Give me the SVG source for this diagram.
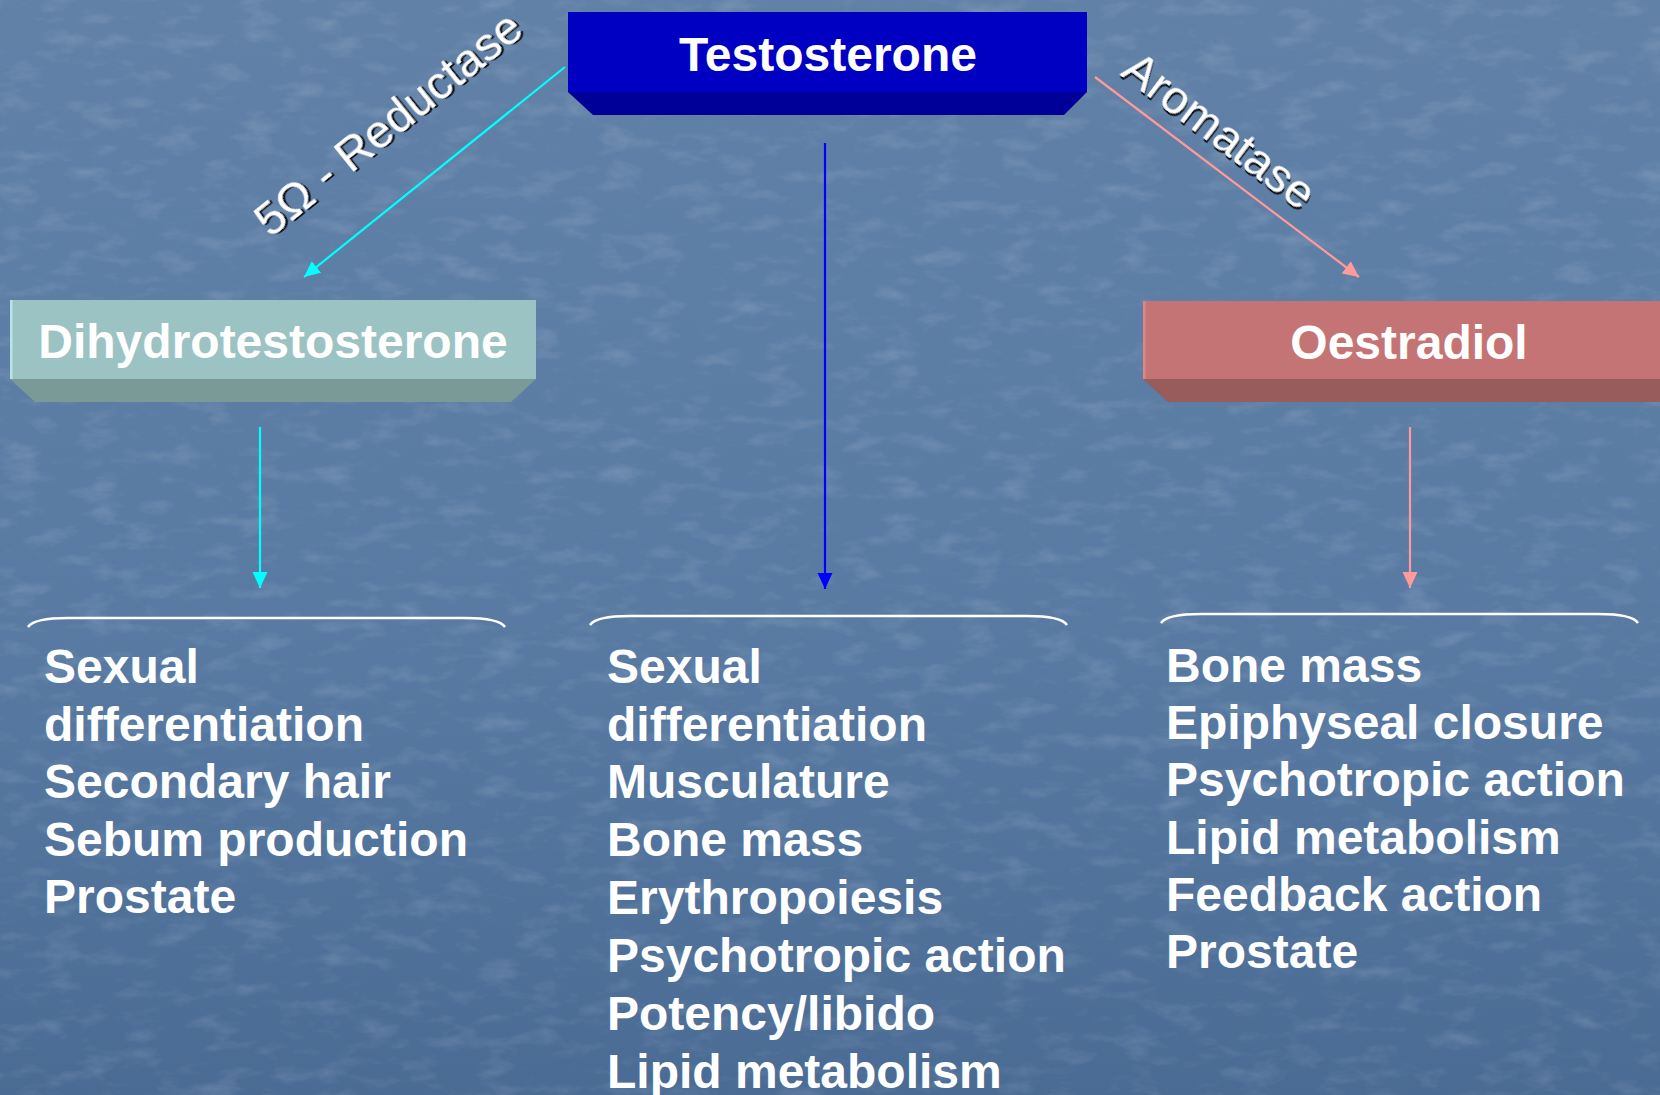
<svg xmlns="http://www.w3.org/2000/svg" width="1660" height="1095" viewBox="0 0 1660 1095">
<defs>
<linearGradient id="bg" x1="0" y1="0" x2="0" y2="1">
<stop offset="0" stop-color="#6181a7"/>
<stop offset="0.6" stop-color="#587aa2"/>
<stop offset="1" stop-color="#4a6b94"/>
</linearGradient>
<filter id="grain" x="0" y="0" width="100%" height="100%">
<feTurbulence type="fractalNoise" baseFrequency="0.025 0.06" numOctaves="4" seed="11" result="n"/>
<feColorMatrix in="n" type="matrix" values="0 0 0 0 1  0 0 0 0 1  0 0 0 0 1  0 0 0 1.4 -0.7"/>
</filter>
<filter id="shadow" x="-10%" y="-10%" width="120%" height="120%">
<feDropShadow dx="2" dy="2" stdDeviation="0.6" flood-color="#000" flood-opacity="0.85"/>
</filter>
<marker id="ahCyan" markerUnits="userSpaceOnUse" markerWidth="18" markerHeight="16" refX="16" refY="8" orient="auto">
<path d="M0,0.5 L16,8 L0,15.5 Z" fill="#00ffff"/>
</marker>
<marker id="ahBlue" markerUnits="userSpaceOnUse" markerWidth="18" markerHeight="16" refX="16" refY="8" orient="auto">
<path d="M0,0.5 L16,8 L0,15.5 Z" fill="#0000ff"/>
</marker>
<marker id="ahPink" markerUnits="userSpaceOnUse" markerWidth="18" markerHeight="16" refX="16" refY="8" orient="auto">
<path d="M0,0.5 L16,8 L0,15.5 Z" fill="#ff9a9a"/>
</marker>
<style>
.hdr{font-family:"Liberation Sans",Arial,sans-serif;font-weight:bold;font-size:48px;fill:#ffffff;text-anchor:middle}
.lst{font-family:"Liberation Sans",Arial,sans-serif;font-weight:bold;font-size:48px;fill:#ffffff}
.enz{font-family:"Liberation Sans",Arial,sans-serif;font-size:47px;fill:#ffffff;text-anchor:middle}
.brace{fill:none;stroke:#ffffff;stroke-width:2.5}
.conn{fill:none;stroke-width:2.2}
</style>
</defs>
<rect width="1660" height="1095" fill="url(#bg)"/>
<rect width="1660" height="1095" filter="url(#grain)" opacity="0.22"/>

<g id="testosterone">
<rect x="568" y="12" width="519" height="80" fill="#0000c2"/>
<polygon points="568,92 1087,92 1064,115 593,115" fill="#000098"/>
<text class="hdr" x="828" y="71">Testosterone</text>
</g>

<g id="dihydrotestosterone">
<rect x="10" y="300" width="526" height="79" fill="#9cc3c3"/>
<rect x="10" y="300" width="2.5" height="79" fill="#b8e4e4"/>
<polygon points="10,379 536,379 511,402 35,402" fill="#7a9a98"/>
<text class="hdr" x="273" y="358">Dihydrotestosterone</text>
</g>

<g id="oestradiol">
<rect x="1143" y="301" width="532" height="78" fill="#c47474"/>
<rect x="1143" y="301" width="2.5" height="78" fill="#e08686"/>
<polygon points="1143,379 1675,379 1675,402 1168,402" fill="#985c5c"/>
<text class="hdr" x="1409" y="359">Oestradiol</text>
</g>

<g id="enzyme-labels">
<text class="enz" filter="url(#shadow)" transform="translate(398,136) rotate(-38.8)">5Ω - Reductase</text>
<text class="enz" filter="url(#shadow)" transform="translate(1210,143) rotate(37.1)">Aromatase</text>
</g>

<g id="connectors">
<line class="conn" x1="565" y1="67" x2="304" y2="277" stroke="#00ffff" marker-end="url(#ahCyan)"/>
<line class="conn" x1="825" y1="143" x2="825" y2="589" stroke="#0000ff" marker-end="url(#ahBlue)"/>
<line class="conn" x1="1095" y1="77" x2="1359" y2="277" stroke="#ff9a9a" marker-end="url(#ahPink)"/>
<line class="conn" x1="260" y1="427" x2="260" y2="588" stroke="#00ffff" marker-end="url(#ahCyan)"/>
<line class="conn" x1="1410" y1="427" x2="1410" y2="588" stroke="#ff9a9a" marker-end="url(#ahPink)"/>
</g>

<g id="brace-dht">
<path class="brace" d="M28,627 Q34,618 68,618 L465,618 Q499,618 505,627"/>
</g>
<g id="brace-testosterone">
<path class="brace" d="M590,625 Q596,616 630,616 L1027,616 Q1061,616 1067,625"/>
</g>
<g id="brace-oestradiol">
<path class="brace" d="M1161,623 Q1167,614 1201,614 L1598,614 Q1632,614 1638,623"/>
</g>

<g id="list-dht">
<text class="lst" x="44" y="683">Sexual</text>
<text class="lst" x="44" y="741">differentiation</text>
<text class="lst" x="44" y="798">Secondary hair</text>
<text class="lst" x="44" y="856">Sebum production</text>
<text class="lst" x="44" y="913">Prostate</text>
</g>

<g id="list-testosterone">
<text class="lst" x="607" y="683">Sexual</text>
<text class="lst" x="607" y="741">differentiation</text>
<text class="lst" x="607" y="798">Musculature</text>
<text class="lst" x="607" y="856">Bone mass</text>
<text class="lst" x="607" y="914">Erythropoiesis</text>
<text class="lst" x="607" y="972">Psychotropic action</text>
<text class="lst" x="607" y="1030">Potency/libido</text>
<text class="lst" x="607" y="1088">Lipid metabolism</text>
</g>

<g id="list-oestradiol">
<text class="lst" x="1166" y="682">Bone mass</text>
<text class="lst" x="1166" y="739">Epiphyseal closure</text>
<text class="lst" x="1166" y="796">Psychotropic action</text>
<text class="lst" x="1166" y="854">Lipid metabolism</text>
<text class="lst" x="1166" y="911">Feedback action</text>
<text class="lst" x="1166" y="968">Prostate</text>
</g>
</svg>
